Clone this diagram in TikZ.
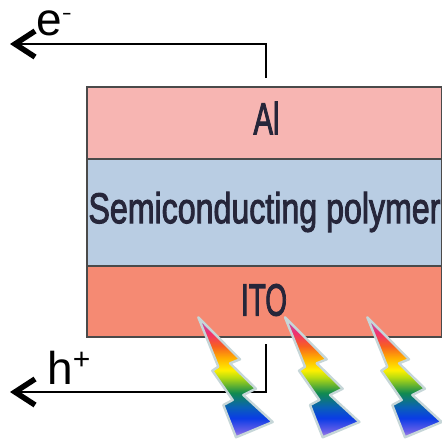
\documentclass[tikz,border=0pt]{standalone}
\usepackage{fontspec}
\usepackage{graphicx}
\setmainfont{Liberation Sans}
\newfontfamily\heavylabel[FakeBold=2.6]{Liberation Sans}
\usetikzlibrary{arrows.meta}
\definecolor{alc}{HTML}{F7B5B2}
\definecolor{polyc}{HTML}{B9CDE3}
\definecolor{itoc}{HTML}{F58A73}
\definecolor{edgec}{HTML}{4A4A4A}
\definecolor{labelc}{HTML}{26263A}
\definecolor{haloc}{HTML}{C6D6D8}
\definecolor{ra}{HTML}{B090E0}
\definecolor{rb}{HTML}{6A60E8}
\definecolor{rc}{HTML}{0A3CE6}
\definecolor{rd}{HTML}{0A60B8}
\definecolor{re}{HTML}{108A50}
\definecolor{rf}{HTML}{B8DC10}
\definecolor{rg}{HTML}{FFF000}
\definecolor{rh}{HTML}{FFB000}
\definecolor{ri}{HTML}{F86020}
\definecolor{rj}{HTML}{F03070}
\definecolor{rk}{HTML}{A860C0}
\pgfdeclareverticalshading{rainbowbolt}{100bp}{
  color(0bp)=(ra);
  color(25bp)=(ra);
  color(27.5bp)=(rb);
  color(33bp)=(rc);
  color(37.5bp)=(rd);
  color(43.5bp)=(re);
  color(50bp)=(rf);
  color(53bp)=(rg);
  color(58bp)=(rh);
  color(63bp)=(ri);
  color(68.5bp)=(rj);
  color(75bp)=(rk);
  color(100bp)=(rk)}
\tikzset{
  layer/.style={draw=edgec,line width=1.8pt,minimum width=355pt,inner sep=0pt,anchor=north west},
  layertext/.style={text=labelc},
  wire/.style={draw=black,line width=2.6pt},
  arrowwire/.style={wire,-{Straight Barb[length=20pt,width=26pt,line width=5.5pt]}},
  chargetext/.style={font=\fontsize{46pt}{46pt}\selectfont,text=black,inner sep=0pt},
  bolt/.style={draw=haloc,line width=2.4pt,line join=round,shading=rainbowbolt}
}
\newcommand{\lightbolt}[1]{%
  \path[bolt,shift={(#1,0)}] (198.3,317.3)--(240,359.3)--(230,363.3)--(256,388.7)--(243.3,395)--(272.7,422)--(236,437.3)--(223.3,405)--(232.7,400)--(212.3,370.7)--(218.3,366.7)--cycle;}
\newcommand{\chargesup}[2]{\raisebox{#1}{\scalebox{1.5}[1]{\fontsize{20pt}{20pt}\selectfont #2}}}
\begin{document}
\begin{tikzpicture}[x=1pt,y=-1pt]
\useasboundingbox (0,0) rectangle (442,440);
\node[layer,fill=alc,minimum height=72pt] (al) at (86,86) {};
\node[layer,fill=polyc,minimum height=107pt] (poly) at (86,158) {};
\node[layer,fill=itoc,minimum height=71pt] (ito) at (86,265) {};
\node[layertext] (allabel) at (266.5,118) {\resizebox{26pt}{\height}{\heavylabel\fontsize{45pt}{45pt}\selectfont Al}};
\node[layertext] (polylabel) at (264.5,212) {\resizebox{352pt}{\height}{\heavylabel\fontsize{43pt}{43pt}\selectfont Semiconducting polymer}};
\node[layertext] (itolabel) at (264,300) {\resizebox{46pt}{\height}{\heavylabel\fontsize{45pt}{45pt}\selectfont ITO}};
\coordinate (estart) at (266,78);
\coordinate (ecorner) at (266,44);
\coordinate (eend) at (10,44);
\coordinate (hstart) at (266,344);
\coordinate (hcorner) at (266,392);
\coordinate (hend) at (10,392);
\draw[arrowwire] (estart) -- (ecorner) -- (eend);
\draw[arrowwire] (hstart) -- (hcorner) -- (hend);
\node[chargetext,anchor=base west] (elabel) at (36,35) {e\chargesup{16pt}{-}};
\node[chargetext,anchor=base west] (hlabel) at (47,384) {h\raisebox{15pt}{\fontsize{30pt}{30pt}\selectfont +}};
\lightbolt{0}
\lightbolt{86.7}
\lightbolt{169}
\end{tikzpicture}
\end{document}
